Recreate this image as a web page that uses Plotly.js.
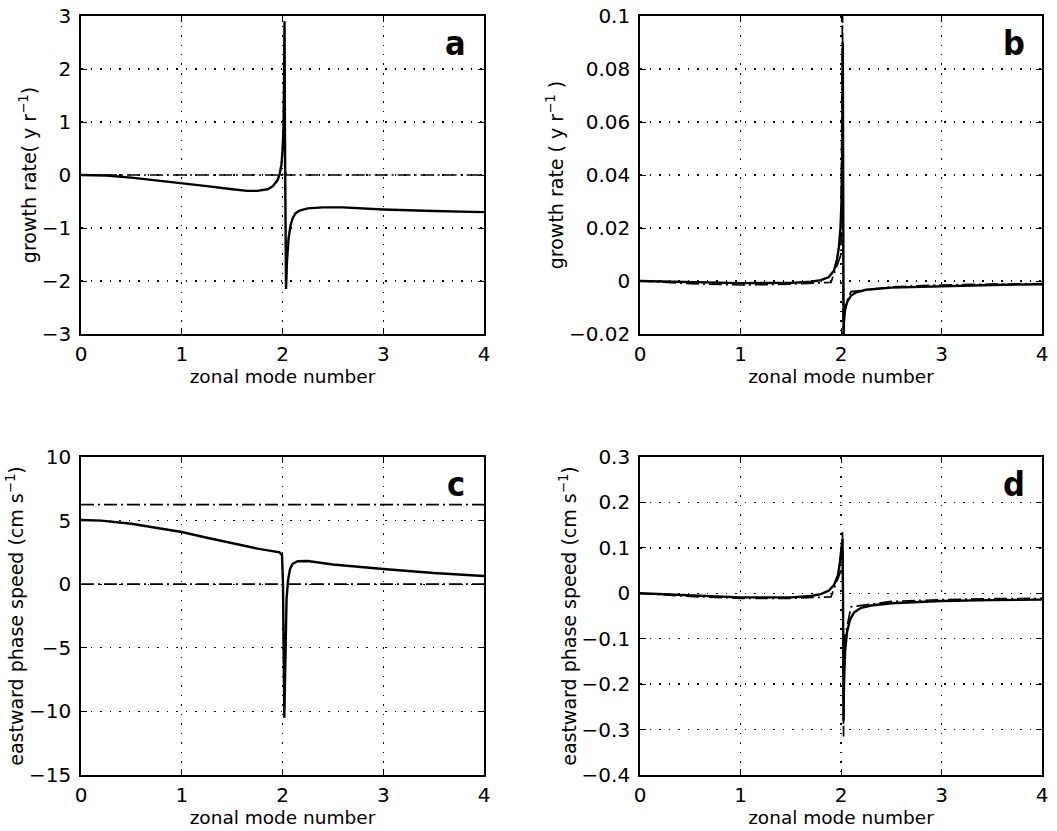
<!DOCTYPE html>
<html>
<head>
<meta charset="utf-8">
<script src="https://cdn.plot.ly/plotly-3.0.1.min.js"></script>
<style>html,body{margin:0;padding:0;background:#fff;}#chart{width:1057px;height:831px;}</style>
</head>
<body>
<div id="chart"></div>
<script>
// ---------- Panel a: growth rate (1/yr) ----------
const xA_solid = [0, 0.25, 0.5, 0.75, 1.0, 1.25, 1.5, 1.65, 1.75, 1.85, 1.9, 1.95, 1.97, 1.99, 2.0, 2.01, 2.015, 2.02, 2.025, 2.03, 2.035, 2.045, 2.06, 2.08, 2.1, 2.13, 2.17, 2.25, 2.4, 2.6, 3.0, 3.5, 4.0];
const yA_solid = [0, -0.01, -0.05, -0.1, -0.15, -0.21, -0.27, -0.3, -0.3, -0.27, -0.22, -0.1, 0.0, 0.2, 0.45, 0.9, 1.8, 2.9, 0.5, -1.5, -2.15, -1.6, -1.2, -0.95, -0.82, -0.72, -0.67, -0.63, -0.61, -0.61, -0.65, -0.68, -0.7];
const xA_dd = [0, 2.0, 2.02, 2.04, 4.0];
const yA_dd = [0, 0, 0.08, 0, 0];

// ---------- Panel b: growth rate (1/yr) ----------
const xB_solid = [0, 0.5, 1.0, 1.5, 1.7, 1.8, 1.88, 1.93, 1.96, 1.98, 1.995, 2.005, 2.012, 2.018, 2.022, 2.026, 2.03, 2.04, 2.06, 2.1, 2.15, 2.25, 2.5, 3.0, 3.5, 4.0];
const yB_solid = [0, -0.0004, -0.0008, -0.0007, -0.0003, 0.0003, 0.0015, 0.004, 0.008, 0.013, 0.02, 0.03, 0.05, 0.09, -0.005, -0.021, -0.015, -0.011, -0.008, -0.0055, -0.0043, -0.0033, -0.0025, -0.0019, -0.0015, -0.0012];
const xB_dd = [0, 0.5, 1.0, 1.5, 1.9, 2.0, 2.015, 2.022, 2.03, 2.1, 2.5, 3.0, 3.5, 4.0];
const yB_dd = [0, -0.001, -0.0015, -0.0012, -0.0005, 0.01, 0.11, -0.025, -0.01, -0.004, -0.0022, -0.0015, -0.0012, -0.001];

// ---------- Panel c: eastward phase speed (cm/s) ----------
const xC_solid = [0, 0.2, 0.5, 0.75, 1.0, 1.25, 1.5, 1.75, 1.9, 1.97, 1.995, 2.005, 2.012, 2.018, 2.024, 2.03, 2.04, 2.055, 2.075, 2.1, 2.15, 2.25, 2.5, 3.0, 3.5, 4.0];
const yC_solid = [5.05, 5.0, 4.75, 4.45, 4.1, 3.65, 3.2, 2.8, 2.6, 2.5, 2.3, 0, -6, -10.5, -8, -4, -1.2, 0.3, 1.2, 1.6, 1.8, 1.82, 1.55, 1.2, 0.88, 0.65];
const xC_dd_upper = [0, 4.0];
const yC_dd_upper = [6.25, 6.25];
const xC_dd_lower = [0, 4.0];
const yC_dd_lower = [0, 0];

// ---------- Panel d: eastward phase speed (cm/s) ----------
const xD_solid = [0, 0.5, 1.0, 1.5, 1.7, 1.8, 1.88, 1.93, 1.97, 1.99, 2.005, 2.015, 2.02, 2.025, 2.03, 2.04, 2.06, 2.09, 2.13, 2.2, 2.3, 2.5, 3.0, 3.5, 4.0];
const yD_solid = [0, -0.005, -0.009, -0.009, -0.006, -0.002, 0.006, 0.018, 0.04, 0.07, 0.11, 0.12, 0.0, -0.28, -0.2, -0.13, -0.085, -0.058, -0.042, -0.032, -0.027, -0.022, -0.017, -0.015, -0.014];
const xD_dd = [0, 0.5, 1.0, 1.5, 1.9, 2.0, 2.015, 2.025, 2.035, 2.1, 2.5, 3.0, 3.5, 4.0];
const yD_dd = [0, -0.007, -0.011, -0.011, -0.008, 0.05, 0.135, -0.315, -0.1, -0.03, -0.018, -0.014, -0.012, -0.011];

// ---------- Labels ----------
const xTitle = 'zonal mode number';
const yTitleA = 'growth rate( y r<sup>\u22121</sup>)';
const yTitleB = 'growth rate ( y r<sup>\u22121</sup> )';
const yTitleCD = 'eastward phase speed (cm s<sup>\u22121</sup>)';
const panelLabels = ['a', 'b', 'c', 'd'];

const solid = {color: '#000', width: 2.4, dash: 'solid'};
const dashdot = {color: '#000', width: 1.7, dash: '13px,4px,2px,4px'};

function tr(x, y, ax, line) {
  return {x: x, y: y, xaxis: 'x' + ax, yaxis: 'y' + ax, type: 'scatter', mode: 'lines', line: line, showlegend: false, hoverinfo: 'skip'};
}
const traces = [
  tr(xA_dd, yA_dd, '', dashdot), tr(xA_solid, yA_solid, '', solid),
  tr(xB_dd, yB_dd, '2', dashdot), tr(xB_solid, yB_solid, '2', solid),
  tr(xC_dd_upper, yC_dd_upper, '3', dashdot), tr(xC_dd_lower, yC_dd_lower, '3', dashdot), tr(xC_solid, yC_solid, '3', solid),
  tr(xD_dd, yD_dd, '4', dashdot), tr(xD_solid, yD_solid, '4', solid)
];

const FONT = 'DejaVu Sans, Liberation Sans, Arial, sans-serif';
function xax(domain, anchor) {
  return {domain: domain, anchor: anchor, range: [0, 4], tickvals: [0, 1, 2, 3, 4],
    showline: true, linecolor: '#000', linewidth: 1.8, mirror: 'ticks', ticks: 'inside', ticklen: 6, tickcolor: '#000',
    showgrid: true, gridcolor: '#000', gridwidth: 1.3, griddash: '1.5px,8px', zeroline: false,
    tickfont: {family: FONT, size: 20, color: '#000'}, ticklabelstandoff: 1,
    title: {text: xTitle, font: {family: FONT, size: 18.5, color: '#000'}, standoff: 3}};
}
function yax(domain, anchor, range, dtick, title) {
  return {domain: domain, anchor: anchor, range: range, dtick: dtick, tick0: range[0],
    showline: true, linecolor: '#000', linewidth: 1.8, mirror: 'ticks', ticks: 'inside', ticklen: 6, tickcolor: '#000',
    showgrid: true, gridcolor: '#000', gridwidth: 1.3, griddash: '1.5px,8px', zeroline: false,
    tickfont: {family: FONT, size: 20, color: '#000'}, ticklabelstandoff: 4,
    title: {text: title, font: {family: FONT, size: 19, color: '#000'}, standoff: 0}};
}

const dL = [81/1057, 484/1057], dR = [640/1057, 1042/1057];
const dT = [(831-334)/831, (831-16)/831], dB = [(831-775)/831, (831-457)/831];

const layout = {
  width: 1057, height: 831, margin: {l: 0, r: 0, t: 0, b: 0},
  paper_bgcolor: '#fff', plot_bgcolor: '#fff',
  xaxis: xax(dL, 'y'), yaxis: yax(dT, 'x', [-3, 3], 1, yTitleA),
  xaxis2: xax(dR, 'y2'), yaxis2: yax(dT, 'x2', [-0.02, 0.1], 0.02, yTitleB),
  xaxis3: xax(dL, 'y3'), yaxis3: yax(dB, 'x3', [-15, 10], 5, yTitleCD),
  xaxis4: xax(dR, 'y4'), yaxis4: yax(dB, 'x4', [-0.4, 0.3], 0.1, yTitleCD),
  annotations: [['x', 'y'], ['x2', 'y2'], ['x3', 'y3'], ['x4', 'y4']].map((r, i) => ({
    text: '<b>' + panelLabels[i] + '</b>', xref: r[0] + ' domain', yref: r[1] + ' domain',
    x: 0.93, y: 0.915, xanchor: 'center', yanchor: 'middle', showarrow: false,
    font: {family: 'DejaVu Sans Condensed, Liberation Sans Narrow, sans-serif', size: 34, color: '#000'}
  }))
};

Plotly.newPlot('chart', traces, layout, {staticPlot: true, displayModeBar: false});
</script>
</body>
</html>
